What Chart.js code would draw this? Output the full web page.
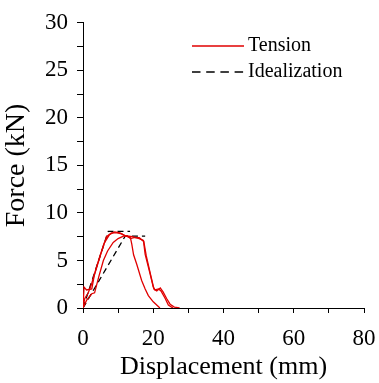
<!DOCTYPE html>
<html>
<head>
<meta charset="utf-8">
<script src="https://cdn.jsdelivr.net/npm/chart.js@4"></script>
<style>
  html, body { margin: 0; padding: 0; background: #fff; }
  #wrap { width: 379px; height: 383px; }
</style>
</head>
<body>
<div id="wrap"><canvas id="chart" width="379" height="383"></canvas></div>
<script>
// Tension curves (displacement mm, force kN)
const tension1X = [0, 0.3, 1, 2.5, 3.2, 5, 6.7, 8.1, 9.7, 11, 12.3, 13.5, 13.9, 14.4, 15.3, 16.7, 17.7, 18.6, 20, 21.9];
const tension1Y = [0, 2.2, 1.9, 2.0, 3.4, 5.6, 7.5, 7.9, 7.9, 7.8, 7.55, 7.4, 6.7, 5.6, 4.6, 2.9, 2.0, 1.3, 0.65, 0];
const tension2X = [0, 0.5, 1.5, 2.5, 4, 6, 7.5, 9, 10.5, 12, 14, 16, 17.2, 17.7, 19.1, 20, 20.5, 21.5, 22.2, 23.4, 24.3, 25.6];
const tension2Y = [0, 1.0, 1.6, 2.6, 4.5, 6.8, 7.7, 8.0, 7.9, 7.6, 7.5, 7.3, 7.1, 5.65, 3.6, 2.2, 1.9, 2.0, 1.8, 1.0, 0.3, 0];
const tension3X = [0, 1, 2.5, 3.3, 4.5, 5.8, 7, 8.6, 10, 11.5, 12.5, 13.5, 14.5, 16, 17.3, 18, 19.3, 20.2, 21, 22, 22.8, 23.8, 24.8, 26, 27.5];
const tension3Y = [0, 0.8, 1.5, 1.6, 3.3, 5.0, 6.0, 6.9, 7.3, 7.55, 7.6, 7.3, 7.4, 7.4, 7.0, 5.5, 3.4, 2.0, 1.8, 2.1, 1.7, 1.0, 0.4, 0.1, 0];

// Bilinear idealizations
const ideal1X = [0, 7.2, 13.4];
const ideal1Y = [0, 8.07, 8.07];
const ideal2X = [0, 12, 17.7];
const ideal2Y = [0, 7.55, 7.55];

const xTicks = [0, 20, 40, 60, 80];
const yTicks = [0, 5, 10, 15, 20, 25, 30];

function pts(xs, ys) {
  return xs.map((x, i) => ({ x: x, y: ys[i] }));
}

const serif = '"Liberation Serif", "Times New Roman", serif';

// Legend drawn inside the plot (top right)
const legendPlugin = {
  id: 'innerLegend',
  afterDraw(chart) {
    const ctx = chart.ctx;
    ctx.save();
    ctx.lineWidth = 1.3;
    ctx.strokeStyle = '#e00000';
    ctx.beginPath();
    ctx.moveTo(192, 46);
    ctx.lineTo(244, 46);
    ctx.stroke();
    ctx.strokeStyle = '#000';
    ctx.setLineDash([8.5, 5.7]);
    ctx.beginPath();
    ctx.moveTo(192, 72);
    ctx.lineTo(244, 72);
    ctx.stroke();
    ctx.setLineDash([]);
    ctx.fillStyle = '#000';
    ctx.font = '20px ' + serif;
    ctx.textBaseline = 'middle';
    ctx.fillText('Tension', 248, 46);
    ctx.fillText('Idealization', 248, 72);
    ctx.restore();
  }
};

const red = '#e00000';
const line = (data, color, dash) => ({
  data: data,
  showLine: true,
  borderColor: color,
  borderWidth: 1.3,
  borderDash: dash || [],
  pointRadius: 0,
  tension: 0
});

new Chart(document.getElementById('chart'), {
  type: 'scatter',
  data: {
    datasets: [
      line(pts(tension1X, tension1Y), red),
      line(pts(tension2X, tension2Y), red),
      line(pts(tension3X, tension3Y), red),
      line(pts(ideal1X, ideal1Y), '#000', [6, 4]),
      line(pts(ideal2X, ideal2Y), '#000', [6, 4])
    ]
  },
  options: {
    responsive: false,
    animation: false,
    layout: { padding: { top: 19, right: 15, left: 0, bottom: 0 } },
    plugins: { legend: { display: false }, tooltip: { enabled: false } },
    scales: {
      x: {
        type: 'linear',
        min: 0, max: 80,
        afterBuildTicks: s => { s.ticks = [0,10,20,30,40,50,60,70,80].map(v => ({ value: v })); },
        afterFit: s => { s.height = 75; s.paddingRight = 0; s.paddingLeft = 0; },
        grid: { display: true, drawOnChartArea: false, drawTicks: true, tickLength: 5, color: '#000' },
        border: { display: true, color: '#000', width: 1 },
        ticks: {
          color: '#000',
          font: { family: serif, size: 23 },
          padding: 12,
          maxRotation: 0,
          autoSkip: false,
          callback: v => xTicks.includes(v) ? String(v) : ''
        },
        title: {
          display: true,
          text: 'Displacement (mm)',
          color: '#000',
          font: { family: serif, size: 26 },
          padding: { top: 0, bottom: 0 }
        }
      },
      y: {
        type: 'linear',
        min: 0, max: 30,
        afterBuildTicks: s => {
          const t = [];
          for (let v = 0; v <= 30; v += 2.5) t.push({ value: v });
          s.ticks = t;
        },
        afterFit: s => { s.width = 83; },
        grid: { display: true, drawOnChartArea: false, drawTicks: true, tickLength: 6, color: '#000' },
        border: { display: true, color: '#000', width: 1 },
        ticks: {
          color: '#000',
          font: { family: serif, size: 23 },
          padding: 9,
          autoSkip: false,
          callback: v => yTicks.includes(v) ? String(v) : ''
        },
        title: {
          display: true,
          text: 'Force (kN)',
          color: '#000',
          font: { family: serif, size: 28 },
          padding: { top: 0, bottom: 0 }
        }
      }
    }
  },
  plugins: [legendPlugin]
});
</script>
</body>
</html>
